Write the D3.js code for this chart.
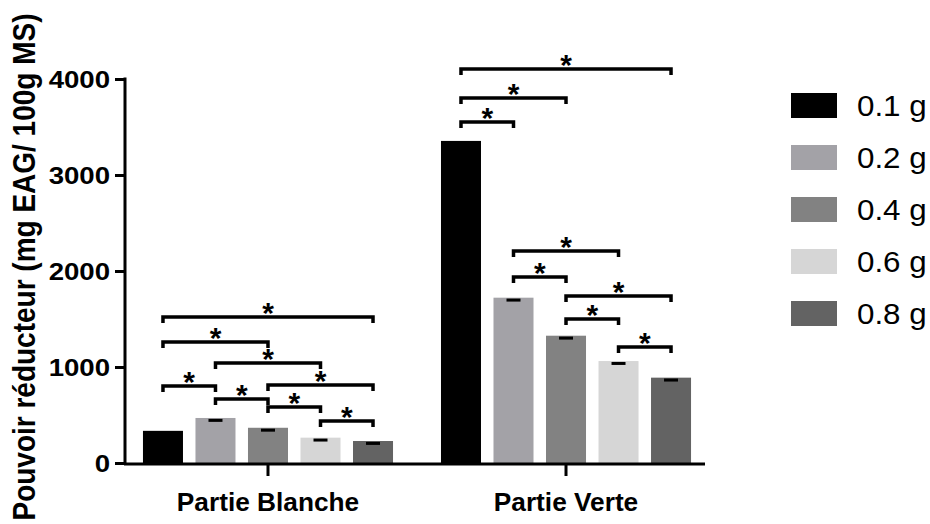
<!DOCTYPE html>
<html><head><meta charset="utf-8">
<script src="https://cdn.jsdelivr.net/npm/d3@7"></script>
<style>body{margin:0;background:#fff}svg{display:block}</style>
</head><body>
<svg id="chart" width="930" height="524"></svg>
<script>
const categories = ["Partie Blanche", "Partie Verte"];
const series = ["0.1 g", "0.2 g", "0.4 g", "0.6 g", "0.8 g"];
const valuesBlanche = [335, 469, 367, 264, 229];
const valuesVerte = [3355, 1722, 1326, 1062, 889];
const errorsBlanche = [0, 25, 25, 25, 25];
const errorsVerte = [0, 25, 25, 25, 25];
const yTicks = [0, 1000, 2000, 3000, 4000];
const colors = ["#000000", "#a3a2a7", "#828282", "#d6d6d6", "#636363"];
// brackets: [from series index, to series index, level]
const bracketsBlanche = [[0,4,1521],[0,2,1260],[1,3,1042],[0,1,802],[2,4,812],[1,2,667],[2,3,583],[3,4,437]];
const bracketsVerte = [[0,4,4104],[0,2,3802],[0,1,3552],[1,3,2208],[1,2,1938],[2,4,1740],[2,3,1500],[3,4,1208]];
const yTitle = "Pouvoir réducteur (mg EAG/ 100g MS)";

const values = [valuesBlanche, valuesVerte];
const errors = [errorsBlanche, errorsVerte];
const brackets = [bracketsBlanche, bracketsVerte];

const svg = d3.select("#chart");
const font = "'Liberation Sans', Arial, Helvetica, sans-serif";

const y = d3.scaleLinear().domain([0, 4000]).range([463, 79]);
const x0 = d3.scaleBand().domain(categories).range([127, 707]).paddingInner(0.119).paddingOuter(0.0326);
const x1 = d3.scaleBand().domain(series).range([0, x0.bandwidth()]).paddingInner(0.238).paddingOuter(0.119);
const color = d3.scaleOrdinal().domain(series).range(colors);

// bars
categories.forEach((c, ci) => {
  const g = svg.append("g").attr("transform", `translate(${x0(c)},0)`);
  g.selectAll("rect.bar").data(series).join("rect").attr("class", "bar")
    .attr("x", s => x1(s)).attr("width", x1.bandwidth())
    .attr("y", (s, i) => y(values[ci][i]))
    .attr("height", (s, i) => y(0) - y(values[ci][i]))
    .attr("fill", s => color(s));
  g.selectAll("line.err").data(series.filter((s, i) => errors[ci][i] > 0)).join("line").attr("class", "err")
    .attr("x1", s => x1(s) + x1.bandwidth() / 2 - 7)
    .attr("x2", s => x1(s) + x1.bandwidth() / 2 + 7)
    .attr("y1", s => y(values[ci][series.indexOf(s)] - errors[ci][series.indexOf(s)]))
    .attr("y2", s => y(values[ci][series.indexOf(s)] - errors[ci][series.indexOf(s)]))
    .attr("stroke", "#000").attr("stroke-width", 3);
  // brackets
  brackets[ci].forEach(([a, b, lvl]) => {
    const xa = x1(series[a]) + x1.bandwidth() / 2;
    const xb = x1(series[b]) + x1.bandwidth() / 2;
    const yl = y(lvl);
    g.append("path")
      .attr("d", `M${xa},${yl + 6}V${yl}H${xb}V${yl + 6}`)
      .attr("fill", "none").attr("stroke", "#000").attr("stroke-width", 3.5);
    g.append("text").attr("x", (xa + xb) / 2).attr("y", yl + 6)
      .attr("text-anchor", "middle").attr("font-family", font)
      .attr("font-weight", "bold").attr("font-size", 30).text("*");
  });
});

// y axis
const yAxis = svg.append("g").attr("transform", "translate(125,0)")
  .call(d3.axisLeft(y).tickValues(yTicks).tickFormat(d3.format("d")).tickSize(10).tickPadding(5).tickSizeOuter(0));
yAxis.select(".domain").attr("stroke-width", 3).attr("d", `M0,${y(4000)-1.5}V${y(0)+2}`);
yAxis.selectAll(".tick line").attr("stroke-width", 3);
yAxis.selectAll(".tick text").attr("font-family", font).attr("font-weight", "bold")
  .attr("font-size", 23).attr("fill", "#000").attr("dy", "0.36em")
  .attr("transform", "translate(-15,0) scale(1.2,1)").attr("x", 0);

// x axis
const xAxis = svg.append("g").attr("transform", `translate(0,${y(0) + 1})`)
  .call(d3.axisBottom(x0).tickSize(12).tickSizeOuter(0).tickPadding(30));
xAxis.select(".domain").attr("stroke-width", 3).attr("d", "M124,0H705");
xAxis.selectAll(".tick line").attr("stroke-width", 3);
xAxis.selectAll(".tick text").attr("font-family", font).attr("font-weight", "bold")
  .attr("font-size", 25).attr("fill", "#000")
  .attr("y", 0).attr("dy", 0).attr("transform", "translate(0,47) scale(1.05,1)");

// y title
svg.append("text").attr("transform", "translate(35,267) rotate(-90) scale(1,1.1)")
  .attr("text-anchor", "middle").attr("font-family", font).attr("font-weight", "bold")
  .attr("font-size", 28).attr("fill", "#000").text(yTitle);

// legend
const leg = svg.append("g");
const ly = d3.scalePoint().domain(series).range([93, 301]);
leg.selectAll("rect").data(series).join("rect")
  .attr("x", 791).attr("y", s => ly(s)).attr("width", 46).attr("height", 25)
  .attr("fill", s => color(s));
leg.selectAll("text").data(series).join("text")
  .attr("transform", s => `translate(857,${ly(s) + 23}) scale(1.08,1)`)
  .attr("font-family", font).attr("font-size", 29).attr("fill", "#000").text(s => s);
</script>
</body></html>
